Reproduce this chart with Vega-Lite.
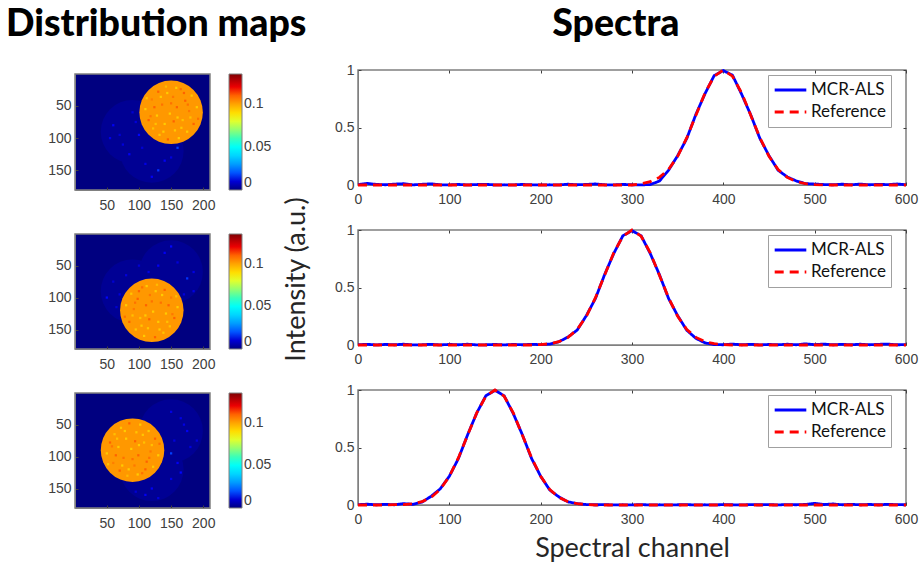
{"$schema":"https://vega.github.io/schema/vega-lite/v6.json","background":"white","padding":{"left":5,"top":5,"right":0,"bottom":0},"spacing":-26,
"config":{"view":{"stroke":"#808080","strokeWidth":1.5},"font":"Liberation Sans","axis":{"labelFont":"Liberation Sans","labelFontSize":14,"labelColor":"#404040","labelFlush":false,"domainColor":"#808080","tickColor":"#404040","grid":false,"tickSize":-3,"titleFont":"Lato","titleFontWeight":"normal","titleFontSize":27,"titleColor":"#262626"},"axisX":{"labelPadding":10},"axisY":{"labelPadding":7},"legend":{"labelFont":"Liberation Sans"}},
"datasets":{
"s1":[{"c":0,"m":0.003,"r":0},{"c":10,"m":0.014,"r":0},{"c":20,"m":0.005,"r":0},{"c":30,"m":0.002,"r":0},{"c":40,"m":0.008,"r":0},{"c":50,"m":0.011,"r":0},{"c":60,"m":0.001,"r":0},{"c":70,"m":0.006,"r":0},{"c":80,"m":0.01,"r":0},{"c":90,"m":0.002,"r":0},{"c":100,"m":0.001,"r":0},{"c":110,"m":0.005,"r":0},{"c":120,"m":0.001,"r":0},{"c":130,"m":0.004,"r":0},{"c":140,"m":0.006,"r":0},{"c":150,"m":0.001,"r":0},{"c":160,"m":0.002,"r":0},{"c":170,"m":0.001,"r":0},{"c":180,"m":0.005,"r":0},{"c":190,"m":0.002,"r":0},{"c":200,"m":0.001,"r":0},{"c":210,"m":0.002,"r":0},{"c":220,"m":0.001,"r":0},{"c":230,"m":0.007,"r":0},{"c":240,"m":0.002,"r":0},{"c":250,"m":0.005,"r":0},{"c":260,"m":0.009,"r":0},{"c":270,"m":0.002,"r":0},{"c":280,"m":0.001,"r":0},{"c":290,"m":0.005,"r":0},{"c":300,"m":0.002,"r":0},{"c":310,"m":0.001,"r":0.011},{"c":320,"m":0.004,"r":0.029},{"c":330,"m":0.034,"r":0.066},{"c":340,"m":0.128,"r":0.135},{"c":350,"m":0.255,"r":0.249},{"c":360,"m":0.405,"r":0.411},{"c":370,"m":0.615,"r":0.607},{"c":380,"m":0.795,"r":0.801},{"c":390,"m":0.952,"r":0.946},{"c":400,"m":0.995,"r":1},{"c":410,"m":0.955,"r":0.946},{"c":420,"m":0.79,"r":0.801},{"c":430,"m":0.61,"r":0.607},{"c":440,"m":0.405,"r":0.411},{"c":450,"m":0.255,"r":0.249},{"c":460,"m":0.128,"r":0.135},{"c":470,"m":0.07,"r":0.066},{"c":480,"m":0.035,"r":0.029},{"c":490,"m":0.012,"r":0.011},{"c":500,"m":0.008,"r":0.004},{"c":510,"m":0.004,"r":0},{"c":520,"m":0.002,"r":0},{"c":530,"m":0.007,"r":0},{"c":540,"m":0.002,"r":0},{"c":550,"m":0.008,"r":0},{"c":560,"m":0.002,"r":0},{"c":570,"m":0.006,"r":0},{"c":580,"m":0.003,"r":0},{"c":590,"m":0.009,"r":0},{"c":600,"m":0.002,"r":0}],
"s2":[{"c":0,"m":0.002,"r":0},{"c":10,"m":0.006,"r":0},{"c":20,"m":0.001,"r":0},{"c":30,"m":0.005,"r":0},{"c":40,"m":0.002,"r":0},{"c":50,"m":0.007,"r":0},{"c":60,"m":0.001,"r":0},{"c":70,"m":0.002,"r":0},{"c":80,"m":0.006,"r":0},{"c":90,"m":0.001,"r":0},{"c":100,"m":0.005,"r":0},{"c":110,"m":0.002,"r":0},{"c":120,"m":0.007,"r":0},{"c":130,"m":0.001,"r":0},{"c":140,"m":0.002,"r":0},{"c":150,"m":0.005,"r":0},{"c":160,"m":0.001,"r":0},{"c":170,"m":0.005,"r":0},{"c":180,"m":0.002,"r":0},{"c":190,"m":0.006,"r":0},{"c":200,"m":0.003,"r":0.004},{"c":210,"m":0.008,"r":0.011},{"c":220,"m":0.028,"r":0.029},{"c":230,"m":0.07,"r":0.066},{"c":240,"m":0.13,"r":0.135},{"c":250,"m":0.255,"r":0.249},{"c":260,"m":0.405,"r":0.411},{"c":270,"m":0.612,"r":0.607},{"c":280,"m":0.795,"r":0.801},{"c":290,"m":0.95,"r":0.946},{"c":300,"m":0.995,"r":1},{"c":310,"m":0.95,"r":0.946},{"c":320,"m":0.795,"r":0.801},{"c":330,"m":0.612,"r":0.607},{"c":340,"m":0.405,"r":0.411},{"c":350,"m":0.255,"r":0.249},{"c":360,"m":0.128,"r":0.135},{"c":370,"m":0.058,"r":0.066},{"c":380,"m":0.018,"r":0.029},{"c":390,"m":0.004,"r":0.011},{"c":400,"m":0.002,"r":0.004},{"c":410,"m":0.008,"r":0},{"c":420,"m":0.002,"r":0},{"c":430,"m":0.006,"r":0},{"c":440,"m":0.001,"r":0},{"c":450,"m":0.005,"r":0},{"c":460,"m":0.002,"r":0},{"c":470,"m":0.007,"r":0},{"c":480,"m":0.002,"r":0},{"c":490,"m":0.01,"r":0},{"c":500,"m":0.003,"r":0},{"c":510,"m":0.008,"r":0},{"c":520,"m":0.002,"r":0},{"c":530,"m":0.006,"r":0},{"c":540,"m":0.002,"r":0},{"c":550,"m":0.007,"r":0},{"c":560,"m":0.002,"r":0},{"c":570,"m":0.006,"r":0},{"c":580,"m":0.008,"r":0},{"c":590,"m":0.002,"r":0},{"c":600,"m":0.003,"r":0}],
"s3":[{"c":0,"m":0.003,"r":0},{"c":10,"m":0.007,"r":0},{"c":20,"m":0.002,"r":0},{"c":30,"m":0.006,"r":0},{"c":40,"m":0.002,"r":0.004},{"c":50,"m":0.012,"r":0.004},{"c":60,"m":0.006,"r":0.011},{"c":70,"m":0.025,"r":0.029},{"c":80,"m":0.075,"r":0.066},{"c":90,"m":0.14,"r":0.135},{"c":100,"m":0.25,"r":0.249},{"c":110,"m":0.405,"r":0.411},{"c":120,"m":0.61,"r":0.607},{"c":130,"m":0.8,"r":0.801},{"c":140,"m":0.95,"r":0.946},{"c":150,"m":0.997,"r":1},{"c":160,"m":0.95,"r":0.946},{"c":170,"m":0.795,"r":0.801},{"c":180,"m":0.61,"r":0.607},{"c":190,"m":0.405,"r":0.411},{"c":200,"m":0.25,"r":0.249},{"c":210,"m":0.13,"r":0.135},{"c":220,"m":0.07,"r":0.066},{"c":230,"m":0.027,"r":0.029},{"c":240,"m":0.012,"r":0.011},{"c":250,"m":0.004,"r":0.004},{"c":260,"m":0.002,"r":0},{"c":270,"m":0.003,"r":0},{"c":280,"m":0.001,"r":0},{"c":290,"m":0.002,"r":0},{"c":300,"m":0.001,"r":0},{"c":310,"m":0.003,"r":0},{"c":320,"m":0.001,"r":0},{"c":330,"m":0.002,"r":0},{"c":340,"m":0.001,"r":0},{"c":350,"m":0.002,"r":0},{"c":360,"m":0.003,"r":0},{"c":370,"m":0.001,"r":0},{"c":380,"m":0.002,"r":0},{"c":390,"m":0.001,"r":0},{"c":400,"m":0.003,"r":0},{"c":410,"m":0.002,"r":0},{"c":420,"m":0.001,"r":0},{"c":430,"m":0.003,"r":0},{"c":440,"m":0.002,"r":0},{"c":450,"m":0.003,"r":0},{"c":460,"m":0.001,"r":0},{"c":470,"m":0.004,"r":0},{"c":480,"m":0.002,"r":0},{"c":490,"m":0.005,"r":0},{"c":500,"m":0.014,"r":0},{"c":510,"m":0.004,"r":0},{"c":520,"m":0.009,"r":0},{"c":530,"m":0.002,"r":0},{"c":540,"m":0.006,"r":0},{"c":550,"m":0.002,"r":0},{"c":560,"m":0.005,"r":0},{"c":570,"m":0.002,"r":0},{"c":580,"m":0.006,"r":0},{"c":590,"m":0.003,"r":0},{"c":600,"m":0.002,"r":0}],
"d1":[{"x":90,"y":90,"v":0.0025},{"x":120,"y":120,"v":0.0025},{"x":150,"y":60,"v":0.102}],
"d2":[{"x":150,"y":60,"v":0.0025},{"x":90,"y":90,"v":0.0025},{"x":120,"y":120,"v":0.102}],
"d3":[{"x":150,"y":60,"v":0.0025},{"x":120,"y":120,"v":0.0025},{"x":90,"y":90,"v":0.102}],
"n1":[{"x":60,"y":80,"v":0.014},{"x":75,"y":110,"v":0.011},{"x":90,"y":60,"v":0.01},{"x":100,"y":95,"v":0.015},{"x":70,"y":95,"v":0.01},{"x":85,"y":125,"v":0.014},{"x":110,"y":140,"v":0.012},{"x":130,"y":150,"v":0.017},{"x":150,"y":130,"v":0.011},{"x":120,"y":160,"v":0.014},{"x":160,"y":115,"v":0.018},{"x":105,"y":115,"v":0.01},{"x":140,"y":135,"v":0.014},{"x":95,"y":75,"v":0.011},{"x":55,"y":100,"v":0.012},
{"x":110,"y":55,"v":0.093},{"x":115,"y":72,"v":0.11},{"x":120,"y":40,"v":0.106},{"x":122,"y":85,"v":0.095},{"x":128,"y":65,"v":0.093},{"x":130,"y":28,"v":0.11},{"x":132,"y":95,"v":0.094},{"x":136,"y":48,"v":0.108},{"x":140,"y":78,"v":0.093},{"x":142,"y":20,"v":0.096},{"x":145,"y":102,"v":0.11},{"x":148,"y":62,"v":0.093},{"x":153,"y":36,"v":0.107},{"x":156,"y":88,"v":0.094},{"x":159,"y":52,"v":0.11},{"x":162,"y":100,"v":0.093},{"x":165,"y":24,"v":0.108},{"x":168,"y":72,"v":0.095},{"x":172,"y":42,"v":0.11},{"x":175,"y":90,"v":0.093},{"x":178,"y":58,"v":0.107},{"x":182,"y":34,"v":0.094},{"x":185,"y":78,"v":0.11},{"x":190,"y":52,"v":0.093},{"x":192,"y":70,"v":0.108},{"x":112,"y":38,"v":0.095},{"x":124,"y":52,"v":0.11},{"x":138,"y":90,"v":0.093},{"x":150,"y":46,"v":0.108},{"x":160,"y":68,"v":0.093},{"x":170,"y":30,"v":0.11},{"x":180,"y":68,"v":0.095},{"x":144,"y":30,"v":0.093},{"x":118,"y":66,"v":0.107},{"x":166,"y":84,"v":0.094},{"x":154,"y":74,"v":0.11},{"x":134,"y":36,"v":0.093},{"x":176,"y":48,"v":0.108},{"x":126,"y":78,"v":0.095},{"x":158,"y":22,"v":0.093}],
"n2":[{"x":140,"y":30,"v":0.014},{"x":160,"y":45,"v":0.011},{"x":175,"y":70,"v":0.017},{"x":185,"y":60,"v":0.012},{"x":130,"y":50,"v":0.014},{"x":150,"y":20,"v":0.015},{"x":170,"y":95,"v":0.011},{"x":185,"y":90,"v":0.012},{"x":60,"y":75,"v":0.01},{"x":80,"y":65,"v":0.011},{"x":50,"y":100,"v":0.015},{"x":65,"y":115,"v":0.01},{"x":70,"y":95,"v":0.011},{"x":115,"y":60,"v":0.012},{"x":100,"y":50,"v":0.01},
{"x":160,"y":115,"v":0.093},{"x":155,"y":132,"v":0.11},{"x":150,"y":100,"v":0.106},{"x":148,"y":145,"v":0.095},{"x":142,"y":125,"v":0.093},{"x":140,"y":88,"v":0.11},{"x":138,"y":155,"v":0.094},{"x":134,"y":108,"v":0.108},{"x":130,"y":138,"v":0.093},{"x":128,"y":80,"v":0.096},{"x":125,"y":162,"v":0.11},{"x":122,"y":122,"v":0.093},{"x":117,"y":96,"v":0.107},{"x":114,"y":148,"v":0.094},{"x":111,"y":112,"v":0.11},{"x":108,"y":160,"v":0.093},{"x":105,"y":84,"v":0.108},{"x":102,"y":132,"v":0.095},{"x":98,"y":102,"v":0.11},{"x":95,"y":150,"v":0.093},{"x":92,"y":118,"v":0.107},{"x":88,"y":94,"v":0.094},{"x":85,"y":138,"v":0.11},{"x":80,"y":112,"v":0.093},{"x":78,"y":130,"v":0.108},{"x":158,"y":98,"v":0.095},{"x":146,"y":112,"v":0.11},{"x":132,"y":150,"v":0.093},{"x":120,"y":106,"v":0.108},{"x":110,"y":128,"v":0.093},{"x":100,"y":90,"v":0.11},{"x":90,"y":128,"v":0.095},{"x":126,"y":90,"v":0.093},{"x":152,"y":126,"v":0.107},{"x":104,"y":144,"v":0.094},{"x":116,"y":134,"v":0.11},{"x":136,"y":96,"v":0.093},{"x":94,"y":108,"v":0.108},{"x":144,"y":138,"v":0.095},{"x":112,"y":82,"v":0.093}],
"n3":[{"x":150,"y":30,"v":0.012},{"x":175,"y":60,"v":0.014},{"x":190,"y":75,"v":0.011},{"x":165,"y":40,"v":0.012},{"x":150,"y":95,"v":0.018},{"x":180,"y":85,"v":0.011},{"x":160,"y":110,"v":0.014},{"x":130,"y":165,"v":0.011},{"x":110,"y":160,"v":0.014},{"x":150,"y":135,"v":0.012},{"x":165,"y":125,"v":0.015},{"x":95,"y":155,"v":0.01},{"x":120,"y":150,"v":0.014},{"x":155,"y":75,"v":0.011},{"x":170,"y":50,"v":0.012},
{"x":50,"y":95,"v":0.093},{"x":55,"y":78,"v":0.11},{"x":60,"y":110,"v":0.106},{"x":62,"y":65,"v":0.095},{"x":68,"y":85,"v":0.093},{"x":70,"y":122,"v":0.11},{"x":72,"y":55,"v":0.094},{"x":76,"y":102,"v":0.108},{"x":80,"y":72,"v":0.093},{"x":82,"y":130,"v":0.096},{"x":85,"y":48,"v":0.11},{"x":88,"y":88,"v":0.093},{"x":93,"y":114,"v":0.107},{"x":96,"y":62,"v":0.094},{"x":99,"y":98,"v":0.11},{"x":102,"y":50,"v":0.093},{"x":105,"y":126,"v":0.108},{"x":108,"y":78,"v":0.095},{"x":112,"y":108,"v":0.11},{"x":115,"y":60,"v":0.093},{"x":118,"y":92,"v":0.107},{"x":122,"y":116,"v":0.094},{"x":125,"y":72,"v":0.11},{"x":130,"y":98,"v":0.093},{"x":132,"y":80,"v":0.108},{"x":52,"y":112,"v":0.095},{"x":64,"y":98,"v":0.11},{"x":78,"y":60,"v":0.093},{"x":90,"y":104,"v":0.108},{"x":100,"y":82,"v":0.093},{"x":110,"y":120,"v":0.11},{"x":120,"y":82,"v":0.095},{"x":84,"y":120,"v":0.093},{"x":58,"y":84,"v":0.107},{"x":106,"y":66,"v":0.094},{"x":94,"y":76,"v":0.11},{"x":74,"y":114,"v":0.093},{"x":116,"y":102,"v":0.108},{"x":66,"y":72,"v":0.095},{"x":98,"y":128,"v":0.093}]
},
"hconcat":[
{"title":{"text":"Distribution maps","font":"Lato","fontWeight":900,"fontSize":37.5,"color":"#000000","anchor":"start","dx":-41,"offset":27},"spacing":3,"bounds":"flush","vconcat":[
{"width":135,"height":1,"view":{"stroke":null},"data":{"values":[]},"mark":"rule","encoding":{}},
{"spacing":44,"bounds":"flush","resolve":{"scale":{"color":"independent"},"legend":{"color":"independent"}},"vconcat":[
{"width":135,"height":116,"view":{"fill":"#000080"},"layer":[{"data":{"name":"d1"},"mark":{"type":"circle","size":4032,"opacity":1},"encoding":{"x":{"field":"x","type":"quantitative","scale":{"domain":[0.5,210.5],"nice":false},"axis":{"title":null,"values":[50,100,150,200],"labelPadding":11}},"y":{"field":"y","type":"quantitative","scale":{"domain":[180.5,0.5],"nice":false},"axis":{"title":null,"values":[50,100,150]}},"color":{"field":"v","type":"quantitative","scale":{"domain":[0,0.0149,0.0486,0.0675,0.0837,0.1175,0.135],"range":["#000080","#0000ff","#00ffff","#80ff80","#ffff00","#ff0000","#800000"]},"legend":{"title":null,"values":[0,0.05,0.1],"format":"~g","gradientLength":116,"gradientThickness":13,"offset":19,"labelFontSize":14,"labelColor":"#404040","gradientStrokeColor":"#808080","gradientStrokeWidth":1,"encode":{"labels":{"update":{"baseline":{"value":"middle"}}}}}}}},{"data":{"name":"n1"},"mark":{"type":"square","size":5,"opacity":1},"encoding":{"x":{"field":"x","type":"quantitative"},"y":{"field":"y","type":"quantitative"},"color":{"field":"v","type":"quantitative"}}}]},
{"width":135,"height":115,"view":{"fill":"#000080"},"layer":[{"data":{"name":"d2"},"mark":{"type":"circle","size":4032,"opacity":1},"encoding":{"x":{"field":"x","type":"quantitative","scale":{"domain":[0.5,210.5],"nice":false},"axis":{"title":null,"values":[50,100,150,200],"labelPadding":11}},"y":{"field":"y","type":"quantitative","scale":{"domain":[180.5,0.5],"nice":false},"axis":{"title":null,"values":[50,100,150]}},"color":{"field":"v","type":"quantitative","scale":{"domain":[0,0.0149,0.0486,0.0675,0.0837,0.1175,0.135],"range":["#000080","#0000ff","#00ffff","#80ff80","#ffff00","#ff0000","#800000"]},"legend":{"title":null,"values":[0,0.05,0.1],"format":"~g","gradientLength":115,"gradientThickness":13,"offset":19,"labelFontSize":14,"labelColor":"#404040","gradientStrokeColor":"#808080","gradientStrokeWidth":1,"encode":{"labels":{"update":{"baseline":{"value":"middle"}}}}}}}},{"data":{"name":"n2"},"mark":{"type":"square","size":5,"opacity":1},"encoding":{"x":{"field":"x","type":"quantitative"},"y":{"field":"y","type":"quantitative"},"color":{"field":"v","type":"quantitative"}}}]},
{"width":135,"height":115,"view":{"fill":"#000080"},"layer":[{"data":{"name":"d3"},"mark":{"type":"circle","size":4032,"opacity":1},"encoding":{"x":{"field":"x","type":"quantitative","scale":{"domain":[0.5,210.5],"nice":false},"axis":{"title":null,"values":[50,100,150,200],"labelPadding":11}},"y":{"field":"y","type":"quantitative","scale":{"domain":[180.5,0.5],"nice":false},"axis":{"title":null,"values":[50,100,150]}},"color":{"field":"v","type":"quantitative","scale":{"domain":[0,0.0149,0.0486,0.0675,0.0837,0.1175,0.135],"range":["#000080","#0000ff","#00ffff","#80ff80","#ffff00","#ff0000","#800000"]},"legend":{"title":null,"values":[0,0.05,0.1],"format":"~g","gradientLength":115,"gradientThickness":13,"offset":19,"labelFontSize":14,"labelColor":"#404040","gradientStrokeColor":"#808080","gradientStrokeWidth":1,"encode":{"labels":{"update":{"baseline":{"value":"middle"}}}}}}}},{"data":{"name":"n3"},"mark":{"type":"square","size":5,"opacity":1},"encoding":{"x":{"field":"x","type":"quantitative"},"y":{"field":"y","type":"quantitative"},"color":{"field":"v","type":"quantitative"}}}]}
]}]},
{"title":{"text":"Spectra","font":"Lato","fontWeight":900,"fontSize":37.5,"color":"#000000","anchor":"start","dx":271,"offset":19},"spacing":45,"bounds":"flush","resolve":{"scale":{"color":"independent","strokeDash":"independent"},"legend":{"color":"independent","strokeDash":"independent"}},"vconcat":[
{"width":548,"height":115,"data":{"name":"s1"},"resolve":{"axis":{"x":"independent","y":"independent"}},"layer":[
{"transform":[{"fold":["m","r"]}],"mark":{"type":"line","strokeWidth":2.8},"encoding":{"x":{"field":"c","type":"quantitative","scale":{"domain":[0,600],"nice":false},"axis":{"title":null,"values":[0,100,200,300,400,500,600]}},"y":{"field":"value","type":"quantitative","scale":{"domain":[0,1],"nice":false},"axis":{"title":null,"values":[0,0.5,1],"format":"~g"}},"color":{"field":"key","title":null,"scale":{"domain":["m","r"],"range":["#0000ff","#ff0000"]},"legend":{"orient":"none","legendX":410,"legendY":5,"fillColor":"white","strokeColor":"#a0a0a0","padding":5,"labelFont":"Lato","labelFontSize":17,"labelColor":"#111111","symbolSize":1000,"symbolStrokeWidth":3,"symbolType":"stroke","clipHeight":20,"rowPadding":2,"labelOffset":3,"labelExpr":"datum.label=='m'?'MCR-ALS':'Reference'"}},"strokeDash":{"field":"key","title":null,"scale":{"domain":["m","r"],"range":[[1,0],[9,6]]}}}},
{"mark":{"type":"line","opacity":0},"encoding":{"x":{"field":"c","type":"quantitative","axis":{"title":null,"orient":"top","labels":false,"domain":false,"values":[0,100,200,300,400,500,600]}},"y":{"field":"r","type":"quantitative","axis":{"title":null,"orient":"right","labels":false,"domain":false,"values":[0,0.5,1]}}}}]},
{"width":548,"height":115,"data":{"name":"s2"},"resolve":{"axis":{"x":"independent","y":"independent"}},"layer":[
{"transform":[{"fold":["m","r"]}],"mark":{"type":"line","strokeWidth":2.8},"encoding":{"x":{"field":"c","type":"quantitative","scale":{"domain":[0,600],"nice":false},"axis":{"title":null,"values":[0,100,200,300,400,500,600]}},"y":{"field":"value","type":"quantitative","scale":{"domain":[0,1],"nice":false},"axis":{"title":"Intensity (a.u.)","values":[0,0.5,1],"format":"~g","titleX":-48,"titleY":49}},"color":{"field":"key","title":null,"scale":{"domain":["m","r"],"range":["#0000ff","#ff0000"]},"legend":{"orient":"none","legendX":410,"legendY":5,"fillColor":"white","strokeColor":"#a0a0a0","padding":5,"labelFont":"Lato","labelFontSize":17,"labelColor":"#111111","symbolSize":1000,"symbolStrokeWidth":3,"symbolType":"stroke","clipHeight":20,"rowPadding":2,"labelOffset":3,"labelExpr":"datum.label=='m'?'MCR-ALS':'Reference'"}},"strokeDash":{"field":"key","title":null,"scale":{"domain":["m","r"],"range":[[1,0],[9,6]]}}}},
{"mark":{"type":"line","opacity":0},"encoding":{"x":{"field":"c","type":"quantitative","axis":{"title":null,"orient":"top","labels":false,"domain":false,"values":[0,100,200,300,400,500,600]}},"y":{"field":"r","type":"quantitative","axis":{"title":null,"orient":"right","labels":false,"domain":false,"values":[0,0.5,1]}}}}]},
{"width":548,"height":115,"data":{"name":"s3"},"resolve":{"axis":{"x":"independent","y":"independent"}},"layer":[
{"transform":[{"fold":["m","r"]}],"mark":{"type":"line","strokeWidth":2.8},"encoding":{"x":{"field":"c","type":"quantitative","scale":{"domain":[0,600],"nice":false},"axis":{"title":"Spectral channel","values":[0,100,200,300,400,500,600],"titlePadding":9}},"y":{"field":"value","type":"quantitative","scale":{"domain":[0,1],"nice":false},"axis":{"title":null,"values":[0,0.5,1],"format":"~g"}},"color":{"field":"key","title":null,"scale":{"domain":["m","r"],"range":["#0000ff","#ff0000"]},"legend":{"orient":"none","legendX":410,"legendY":5,"fillColor":"white","strokeColor":"#a0a0a0","padding":5,"labelFont":"Lato","labelFontSize":17,"labelColor":"#111111","symbolSize":1000,"symbolStrokeWidth":3,"symbolType":"stroke","clipHeight":20,"rowPadding":2,"labelOffset":3,"labelExpr":"datum.label=='m'?'MCR-ALS':'Reference'"}},"strokeDash":{"field":"key","title":null,"scale":{"domain":["m","r"],"range":[[1,0],[9,6]]}}}},
{"mark":{"type":"line","opacity":0},"encoding":{"x":{"field":"c","type":"quantitative","axis":{"title":null,"orient":"top","labels":false,"domain":false,"values":[0,100,200,300,400,500,600]}},"y":{"field":"r","type":"quantitative","axis":{"title":null,"orient":"right","labels":false,"domain":false,"values":[0,0.5,1]}}}}]}
]}
]}
